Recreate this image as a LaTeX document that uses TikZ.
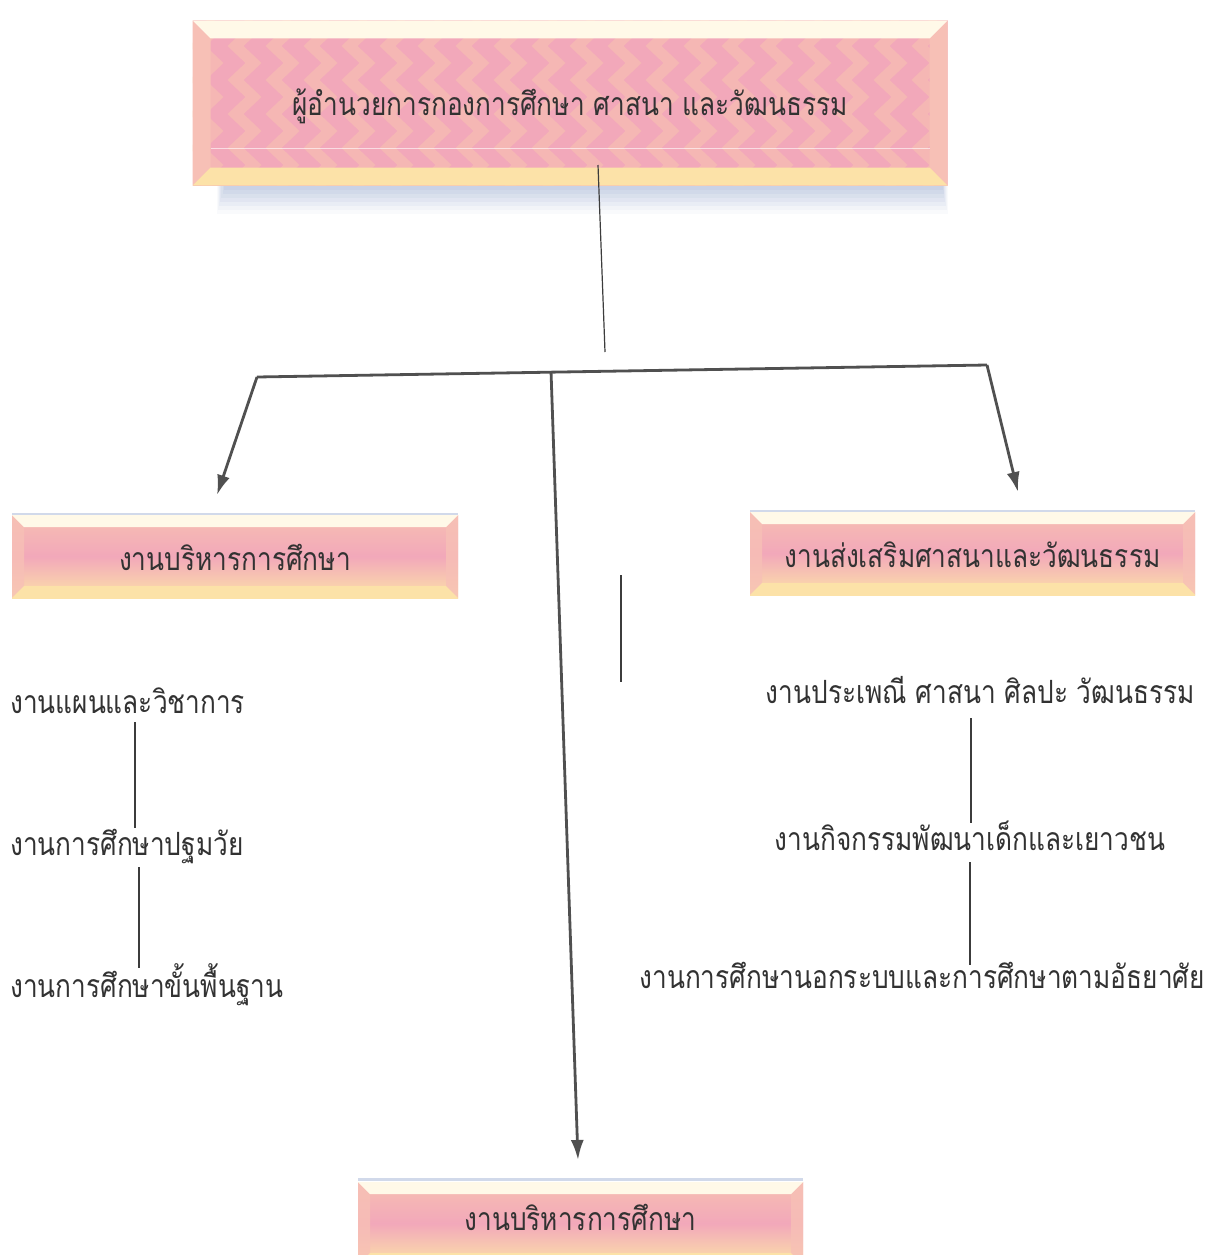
\documentclass[tikz,border=0pt]{standalone}
\usepackage{fontspec}
\newfontfamily\thai[Script=Thai,FakeStretch=0.82]{Loma}
\usetikzlibrary{arrows.meta,calc,decorations.pathmorphing}
\definecolor{pinkfill}{RGB}{242,168,186}
\definecolor{peach}{RGB}{250,206,172}
\definecolor{bevlight}{RGB}{255,249,232}
\definecolor{bevyellow}{RGB}{252,226,168}
\definecolor{bevside}{RGB}{247,192,182}
\definecolor{shadowc}{RGB}{165,180,215}
\definecolor{linec}{RGB}{60,60,60}
\definecolor{arrowc}{RGB}{80,80,80}
\definecolor{textc}{RGB}{50,50,50}
\def\bev{12pt}
\tikzset{
  thaitext/.style={font=\thai\fontsize{32}{38}\selectfont, text=textc, inner sep=0pt},
  item/.style={thaitext},
  bevbox/.style={thaitext, anchor=center,
    path picture={
      \path (path picture bounding box.south west) coordinate (bsw)
            (path picture bounding box.north east) coordinate (bne)
            (path picture bounding box.north west) coordinate (bnw)
            (path picture bounding box.south east) coordinate (bse);
      \shade[top color=peach!60!pinkfill, bottom color=bevyellow, middle color=pinkfill] (bsw) rectangle (bne);
      \fill[bevside, opacity=.8] (bnw) -- ([shift={(\bev,-\bev)}]bnw) -- ([shift={(\bev,\bev)}]bsw) -- (bsw) -- cycle;
      \fill[bevside, opacity=.8] (bne) -- ([shift={(-\bev,-\bev)}]bne) -- ([shift={(-\bev,\bev)}]bse) -- (bse) -- cycle;
      \fill[bevlight] (bnw) -- (bne) -- ([shift={(-\bev,-\bev)}]bne) -- ([shift={(\bev,-\bev)}]bnw) -- cycle;
      \fill[bevyellow] (bsw) -- (bse) -- ([shift={(-\bev,\bev)}]bse) -- ([shift={(\bev,\bev)}]bsw) -- cycle;
    }},
  topshade/.style={
    path picture={
      \path (path picture bounding box.south west) coordinate (bsw)
            (path picture bounding box.north east) coordinate (bne)
            (path picture bounding box.north west) coordinate (bnw)
            (path picture bounding box.south east) coordinate (bse);
      \fill[pinkfill] (bsw) rectangle (bne);
      \foreach \k in {0,...,20}{
        \draw[peach, line width=11pt, opacity=.4, decorate,
              decoration={zigzag, segment length=34pt, amplitude=9pt}]
          ([xshift=\k*38pt+14pt]bnw) -- ([xshift=\k*38pt+14pt]bsw);
      }
      \fill[bevside] (bnw) -- ([shift={(18pt,-18pt)}]bnw) -- ([shift={(18pt,18pt)}]bsw) -- (bsw) -- cycle;
      \fill[bevside] (bne) -- ([shift={(-18pt,-18pt)}]bne) -- ([shift={(-18pt,18pt)}]bse) -- (bse) -- cycle;
      \fill[bevlight] (bnw) -- (bne) -- ([shift={(-18pt,-18pt)}]bne) -- ([shift={(18pt,-18pt)}]bnw) -- cycle;
      \fill[bevyellow] (bsw) -- (bse) -- ([shift={(-18pt,18pt)}]bse) -- ([shift={(18pt,18pt)}]bsw) -- cycle;
      \draw[white, opacity=.6, line width=1pt] ([shift={(18pt,-128pt)}]bnw) -- ([shift={(-18pt,-128pt)}]bne);
    }},
  thin/.style={draw=linec, line width=1.2pt},
  thick/.style={draw=arrowc, line width=2.8pt},
  arr/.style={thick, -{Latex[length=20pt,width=13pt]}}
}
\begin{document}
\begin{tikzpicture}[x=1pt,y=-1pt]
\useasboundingbox[fill=white] (0,0) rectangle (1214,1255);
% shadow of top box
\foreach \o/\op in {4/.16,8/.14,12/.12,16/.12,20/.10,24/.08,28/.06}{
  \fill[shadowc, opacity=\op] (225-\o*0.3,186) rectangle (942+\o*0.2,186+\o);
}
% boxes
\node[thaitext, topshade, minimum width=755pt, minimum height=165pt, text height=24pt, text depth=0pt] (top) at (570,103) {ผู้อำนวยการกองการศึกษา ศาสนา และวัฒนธรรม};
\fill[shadowc, opacity=.5] (12,513) rectangle (458,516);
\node[bevbox, minimum width=446pt, minimum height=83pt, text height=27pt, text depth=0pt] (lbox) at (235,556.5) {งานบริหารการศึกษา};
\fill[shadowc, opacity=.5] (750,510) rectangle (1195,513);
\node[bevbox, minimum width=445pt, minimum height=83pt, text height=27pt, text depth=0pt] (rbox) at (972.5,553.5) {งานส่งเสริมศาสนาและวัฒนธรรม};
\fill[shadowc, opacity=.5] (358,1178) rectangle (803,1181);
\node[bevbox, minimum width=445pt, minimum height=83pt, text height=13pt, text depth=0pt] (bbox) at (580.5,1223.5) {งานบริหารการศึกษา};
% list items
\node[item, anchor=base west] (l1) at (10,713) {งานแผนและวิชาการ};
\node[item, anchor=base west] (l2) at (10,855) {งานการศึกษาปฐมวัย};
\node[item, anchor=base west] (l3) at (10,997) {งานการศึกษาขั้นพื้นฐาน};
\node[item, anchor=base east] (r1) at (1195,703) {งานประเพณี ศาสนา ศิลปะ วัฒนธรรม};
\node[item, anchor=base] (r2) at (970,850) {งานกิจกรรมพัฒนาเด็กและเยาวชน};
\node[item, anchor=base east] (r3) at (1205,988) {งานการศึกษานอกระบบและการศึกษาตามอัธยาศัย};
% coordinates
\coordinate (topout) at (598,165);
\coordinate (topend) at (605,352);
\coordinate (barL) at (257,377);
\coordinate (barM) at (551,371);
\coordinate (barR) at (987,365);
\coordinate (lTip) at (217,495);
\coordinate (rTip) at (1018,492);
\coordinate (mTip) at (578,1160);
\coordinate (stray1) at (621,575);
\coordinate (stray2) at (621,682);
\coordinate (l1b) at (135,722);
\coordinate (l2t) at (135,828);
\coordinate (l2b) at (139,867);
\coordinate (l3t) at (139,968);
\coordinate (r1b) at (971,718);
\coordinate (r2t) at (971,823);
\coordinate (r2b) at (970,862);
\coordinate (r3t) at (970,965);
% connectors
\draw[thin] (topout) -- (topend);
\draw[thick] (barL) -- (barR);
\draw[arr] (barL) -- (lTip);
\draw[arr] (barR) -- (rTip);
\draw[arr] (barM) -- (mTip);
\draw[thin] (stray1) -- (stray2);
\draw[thin] (l1b) -- (l2t);
\draw[thin] (l2b) -- (l3t);
\draw[thin] (r1b) -- (r2t);
\draw[thin] (r2b) -- (r3t);
\end{tikzpicture}
\end{document}
